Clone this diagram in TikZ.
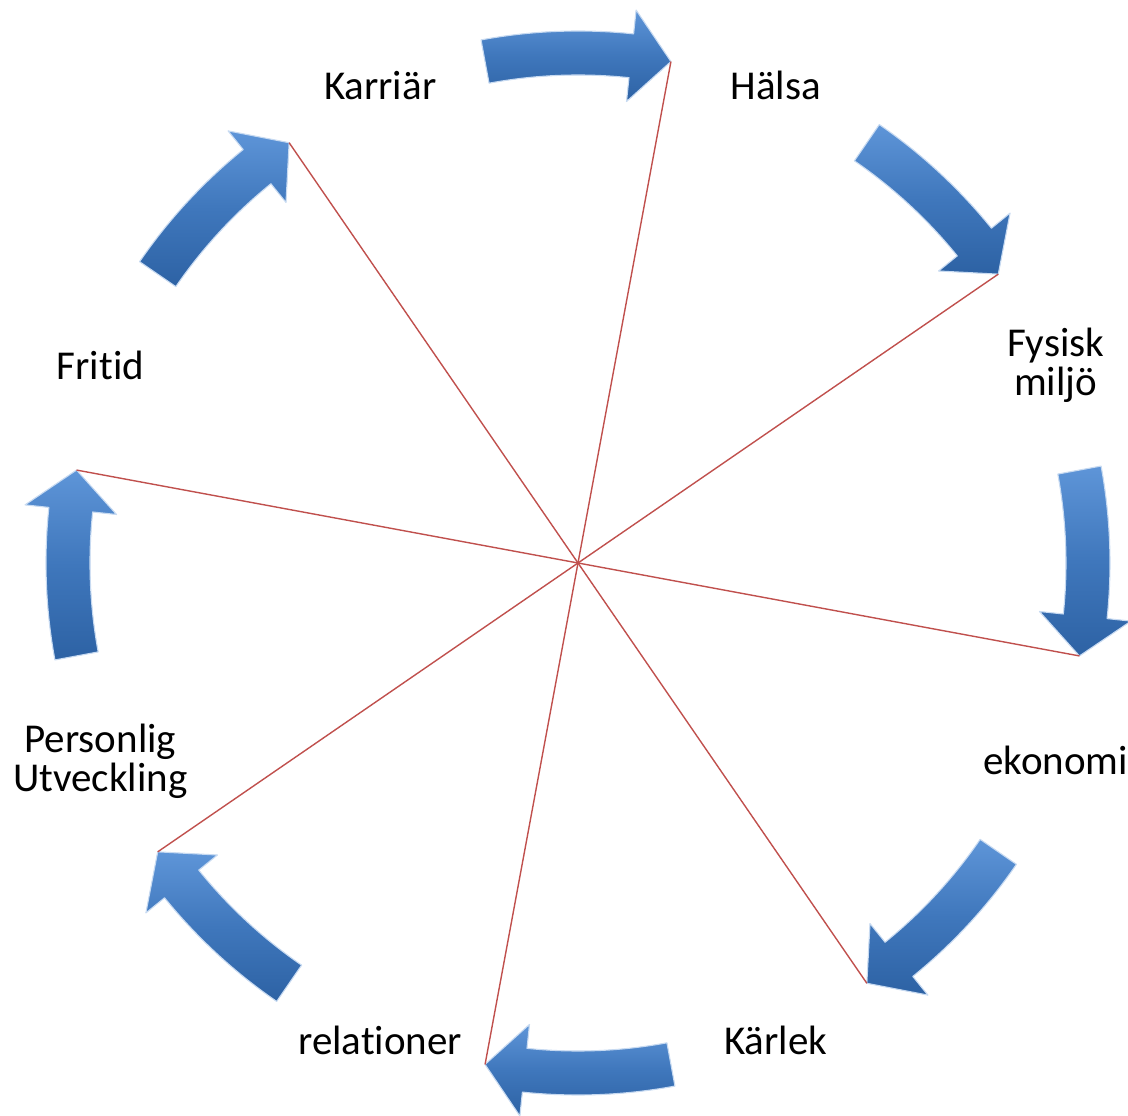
\documentclass[tikz,border=0pt]{standalone}
\usepackage{fontspec}
\setmainfont{Carlito}[Ligatures=NoCommon]
\definecolor{arrowblue}{HTML}{3F77BC}
\definecolor{arrowlight}{HTML}{5E95D8}
\definecolor{arrowdark}{HTML}{2D62A4}
\definecolor{spoke}{HTML}{C0504D}

\begin{document}
\begin{tikzpicture}[x=1pt,y=1pt,
  topic/.style={font=\fontsize{41}{39}\selectfont, align=center, text=black},
  bentarrow/.style={top color=arrowlight, bottom color=arrowdark, middle color=arrowblue,
    draw=arrowlight!35!white, line width=1.1pt, line join=round},
  spoke/.style={draw=spoke, line width=1.4pt}]
  \useasboundingbox (-578,-553) rectangle (550,563);
  \def\R{510}
  % curved block arrows, clockwise round the circle
  \foreach \a [count=\i] in {90,45,0,-45,-90,-135,180,135} {
    \pgfmathsetmacro\tail{\a+10.5}
    \pgfmathsetmacro\base{\a-6}
    \pgfmathsetmacro\tip{\a-10.5}
    \path[bentarrow]
      (\tail:532) arc[start angle=\tail, end angle=\base, radius=532]
      -- (\base:556) -- (\tip:\R) -- (\base:464) -- (\base:488)
      arc[start angle=\base, end angle=\tail, radius=488] -- cycle;
    \coordinate (tip\i) at (\tip:\R);
  }
  % spokes through the middle
  \draw[spoke] (tip1) -- (tip5);
  \draw[spoke] (tip2) -- (tip6);
  \draw[spoke] (tip3) -- (tip7);
  \draw[spoke] (tip4) -- (tip8);
  % labels
  \node[topic] (karriar) at (112.5:517) {Karriär};
  \node[topic] (halsa) at (67.5:517) {Hälsa};
  \node[topic] (fysisk) at (22.5:517) {Fysisk\\miljö};
  \node[topic] (ekonomi) at (-22.5:517) {ekonomi};
  \node[topic] (karlek) at (-67.5:517) {Kärlek};
  \node[topic] (relationer) at (-112.5:517) {relationer};
  \node[topic] (personlig) at (-157.5:517) {Personlig\\Utveckling};
  \node[topic] (fritid) at (157.5:517) {Fritid};
\end{tikzpicture}
\end{document}
